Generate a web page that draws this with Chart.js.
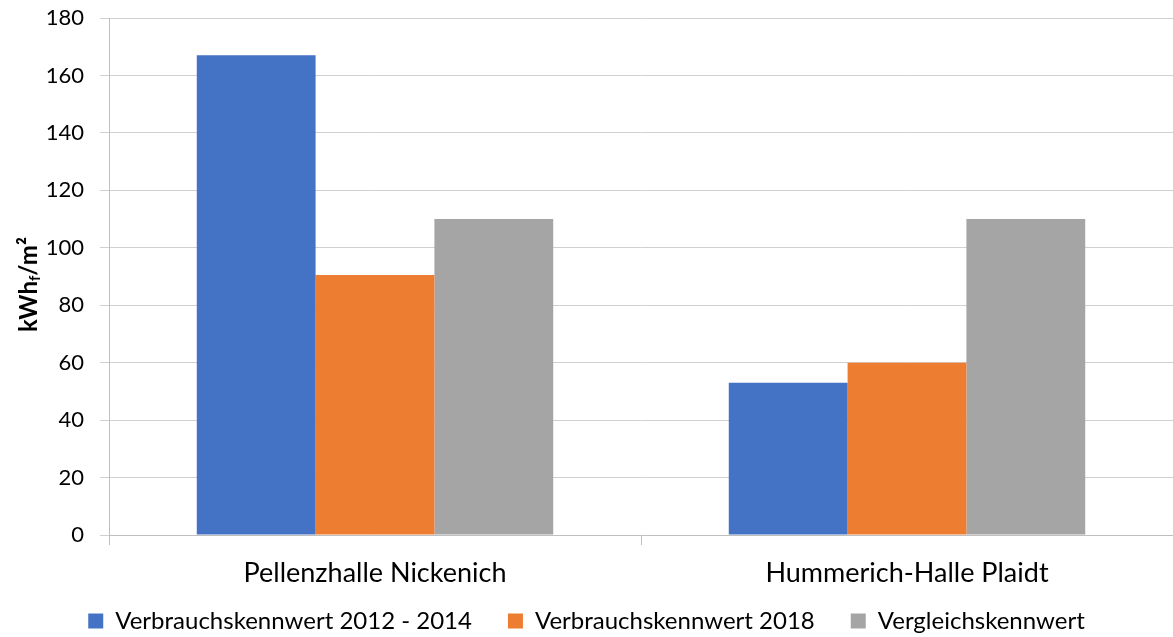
<!DOCTYPE html>
<html>
<head>
<meta charset="utf-8">
<script src="https://cdn.jsdelivr.net/npm/chart.js@4.4.0/dist/chart.umd.min.js"></script>
<style>
  html, body { margin: 0; padding: 0; background: #fff; }
  #wrap { width: 1173px; height: 637px; }
</style>
</head>
<body>
<div id="wrap"><canvas id="chart"></canvas></div>
<script>
const categories = ['Pellenzhalle Nickenich', 'Hummerich-Halle Plaidt'];
const seriesNames = ['Verbrauchskennwert 2012 - 2014', 'Verbrauchskennwert 2018', 'Vergleichskennwert'];
const verbrauch2012 = [167, 53];
const verbrauch2018 = [90.5, 60];
const vergleich = [110, 110];
const colors = ['#4472C4', '#ED7D31', '#A5A5A5'];

const fontFamily = "Lato, 'Open Sans', sans-serif";

// y axis title with subscript f: kWh_f/m²
const yTitle = {
    id: 'yTitle',
    afterDraw(chart) {
        const ctx = chart.ctx;
        const area = chart.chartArea;
        ctx.save();
        ctx.translate(29, (area.top + area.bottom) / 2 + 8);
        ctx.rotate(-Math.PI / 2);
        ctx.fillStyle = '#000';
        ctx.textBaseline = 'middle';
        const big = 'bold 24px ' + fontFamily;
        const small = 'bold 15px ' + fontFamily;
        ctx.font = big;
        const w1 = ctx.measureText('kWh').width;
        const w3 = ctx.measureText('/m²').width;
        ctx.font = small;
        const w2 = ctx.measureText('f').width;
        let x = -(w1 + w2 + w3) / 2;
        ctx.font = big;
        ctx.fillText('kWh', x, 0);
        x += w1;
        ctx.font = small;
        ctx.fillText('f', x, 6);
        x += w2;
        ctx.font = big;
        ctx.fillText('/m²', x, 0);
        ctx.restore();
    }
};

new Chart(document.getElementById('chart'), {
    type: 'bar',
    data: {
        labels: categories,
        datasets: [
            { label: seriesNames[0], data: verbrauch2012, backgroundColor: colors[0] },
            { label: seriesNames[1], data: verbrauch2018, backgroundColor: colors[1] },
            { label: seriesNames[2], data: vergleich, backgroundColor: colors[2] }
        ]
    },
    options: {
        responsive: true,
        maintainAspectRatio: false,
        animation: false,
        layout: { padding: { top: 18, right: 0, left: 0, bottom: -6 } },
        datasets: {
            bar: { categoryPercentage: 0.67, barPercentage: 1.0 }
        },
        plugins: {
            tooltip: { enabled: false },
            legend: {
                position: 'bottom',
                labels: {
                    boxWidth: 15,
                    boxHeight: 15,
                    padding: 36,
                    color: '#000',
                    font: { family: fontFamily, size: 24 }
                }
            }
        },
        scales: {
            x: {
                grid: {
                    drawOnChartArea: false,
                    tickLength: 10,
                    color: '#bfbfbf'
                },
                border: { color: '#bfbfbf' },
                ticks: {
                    color: '#000',
                    padding: 12,
                    font: { family: fontFamily, size: 27 }
                },
                afterFit(scale) {
                    scale.height = 38;
                    // labels reach into the legend band, don't clip them
                    scale._computeLabelArea = () => undefined;
                }
            },
            y: {
                min: 0,
                max: 180,
                ticks: {
                    stepSize: 20,
                    color: '#000',
                    padding: 16,
                    font: { family: fontFamily, size: 22 }
                },
                grid: { color: '#d0d0d0', tickLength: 9 },
                border: { color: '#bfbfbf' },
                afterFit(scale) {
                    scale.width = 109;
                    scale.paddingTop = 0;
                }
            }
        }
    },
    plugins: [yTitle]
});
</script>
</body>
</html>
